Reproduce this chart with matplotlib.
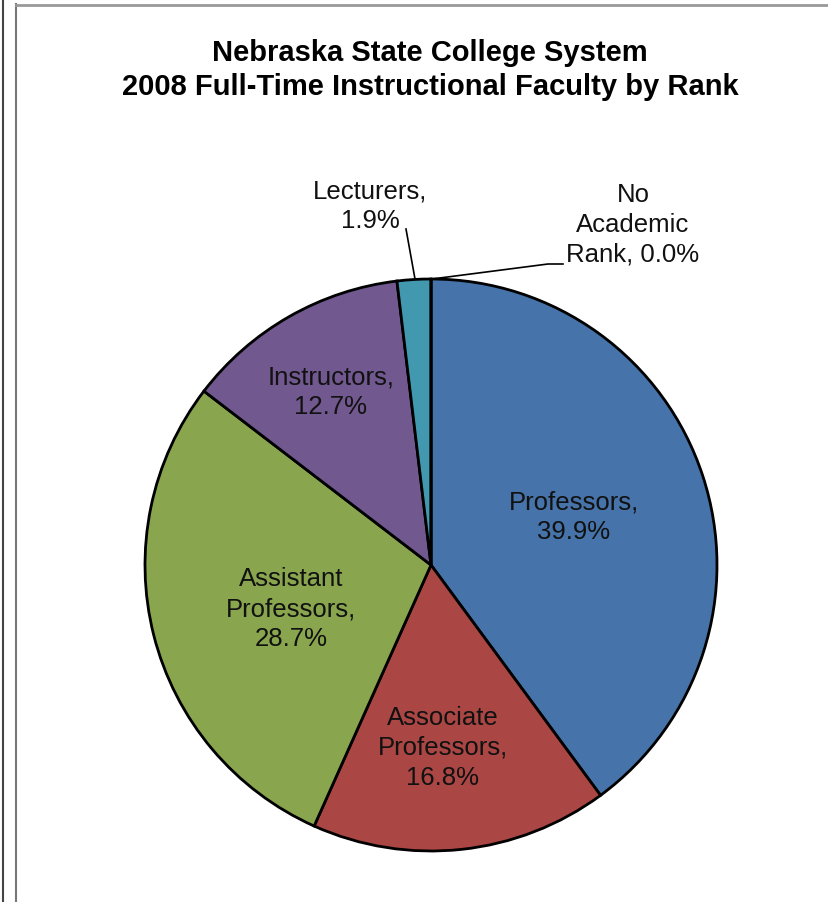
import matplotlib.pyplot as plt
from matplotlib.lines import Line2D

plt.rcParams['font.family'] = ['Liberation Sans', 'DejaVu Sans']

# Data
categories = ["Professors", "Associate\nProfessors", "Assistant\nProfessors",
              "Instructors", "Lecturers", "No\nAcademic\nRank"]
shares = [39.9, 16.8, 28.7, 12.7, 1.9, 0.0]
colors = ["#4673a9", "#aa4643", "#89a54e", "#71588f", "#4198af", "#db843d"]

W, H = 829, 902
fig = plt.figure(figsize=(W / 100, H / 100), dpi=100)
ax = fig.add_axes([0, 0, 1, 1])
ax.axis('off')

# chart frame remnants
fig.add_artist(Line2D([3 / W, 3 / W], [0, 1], color='#444444', lw=1.5))
fig.add_artist(Line2D([15.5 / W, 15.5 / W], [0, 1 - 4 / H], color='#777777', lw=1.5))
fig.add_artist(Line2D([15.5 / W, 1], [1 - 4.5 / H, 1 - 4.5 / H], color='#999999', lw=2))

cx, cy, r = 431, H - 565, 286
wedges, _ = ax.pie(shares, colors=colors, startangle=90, counterclock=False,
                   center=(cx, cy), radius=r,
                   wedgeprops=dict(edgecolor='black', linewidth=2))
ax.set_xlim(0, W)
ax.set_ylim(0, H)

fig.text(430 / W, 1 - 70 / H,
         "Nebraska State College System\n2008 Full-Time Instructional Faculty by Rank",
         ha='center', va='center', fontsize=21, fontweight='bold', linespacing=1.3)

lab = [f"{c},\n{s:.1f}%" for c, s in zip(categories, shares)]
lab[5] = "No\nAcademic\nRank, 0.0%"
pos = [(574, 517), (443, 748), (291, 609), (331, 392), (370, 206), (633, 225)]
for t, (x, y) in zip(lab, pos):
    ax.text(x, H - y, t, ha='center', va='center', fontsize=18.5, linespacing=1.3,
            color='#111111')

# leader lines
ax.plot([406, 415], [H - 229, H - 279], color='black', lw=1.2)
ax.plot([432, 548, 563], [H - 279, H - 264, H - 264], color='black', lw=1.2)

fig.savefig("out.png", dpi=100)
